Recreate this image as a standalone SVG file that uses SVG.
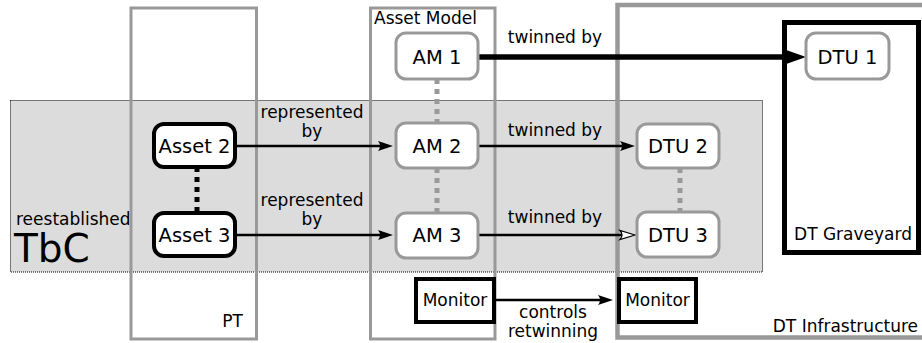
<svg xmlns="http://www.w3.org/2000/svg" width="922" height="343" viewBox="0 0 922 343">
<style>
text{font-family:"DejaVu Sans","Liberation Sans",sans-serif;fill:#000}
.lbl{font-size:17px}
.nt{font-size:19.5px;text-anchor:middle}
.mt{font-size:17px;text-anchor:middle}
.cont{fill:none;stroke:#999;stroke-width:3}
.gnode{fill:#fff;stroke:#999;stroke-width:3}
.bnode{fill:#fff;stroke:#000;stroke-width:4}
.mon{fill:#fff;stroke:#000;stroke-width:4}
.arr{stroke:#000;stroke-width:2.5;fill:none}
.gdot{stroke:#999;stroke-width:5;stroke-dasharray:5 5;fill:none}
.bdot{stroke:#000;stroke-width:5;stroke-dasharray:5 5;fill:none}
</style>
<defs>
<marker id="ah" markerUnits="userSpaceOnUse" viewBox="-20 -12 40 24" markerWidth="40" markerHeight="24" refX="0" refY="0" orient="auto" overflow="visible">
<path d="M8,0 L-7,-5 Q-3,0 -7,5 Z" fill="#000"/>
</marker>
<marker id="ahw" markerUnits="userSpaceOnUse" viewBox="-20 -12 40 24" markerWidth="40" markerHeight="24" refX="0" refY="0" orient="auto" overflow="visible">
<path d="M8,0 L-7,-4.5 Q-3,0 -7,4.5 Z" fill="#fff" stroke="#000" stroke-width="1.2"/>
</marker>
<marker id="ahb" markerUnits="userSpaceOnUse" viewBox="-30 -15 60 30" markerWidth="60" markerHeight="30" refX="0" refY="0" orient="auto" overflow="visible">
<path d="M14,0 L-10,-8.5 Q-4,0 -10,8.5 Z" fill="#000"/>
</marker>
</defs>
<rect width="922" height="343" fill="#fff"/>
<g id="tbc-region">
<rect x="10.5" y="100.5" width="752" height="171.5" fill="#dcdcdc" stroke="#000" stroke-width="1" stroke-dasharray="1 1"/>
<text class="lbl" x="16" y="225">reestablished</text>
<text x="14" y="262" style="font-size:39px">TbC</text>
</g>
<g id="pt">
<rect class="cont" x="131" y="8" width="125.5" height="331"/>
<text class="lbl" x="243" y="327" text-anchor="end">PT</text>
</g>
<g id="asset-model">
<rect class="cont" x="370.5" y="8" width="124.5" height="331"/>
<text class="lbl" x="374" y="24">Asset Model</text>
</g>
<g id="dt-infrastructure">
<rect x="617.5" y="5" width="320" height="332.5" fill="none" stroke="#999" stroke-width="4.5"/>
<text class="lbl" x="918" y="332" text-anchor="end">DT Infrastructure</text>
</g>
<g id="dt-graveyard">
<rect x="784.5" y="22.5" width="134" height="230" fill="#fff" stroke="#000" stroke-width="5"/>
<text class="lbl" x="912" y="240" text-anchor="end">DT Graveyard</text>
</g>
<g id="connectors">
<line class="bdot" x1="197" y1="167" x2="197" y2="213"/>
<line class="gdot" x1="437" y1="79" x2="437" y2="123"/>
<line class="gdot" x1="437" y1="168" x2="437" y2="213"/>
<line class="gdot" x1="680" y1="168" x2="680" y2="212"/>
<line class="arr" x1="235" y1="146" x2="385" y2="146" marker-end="url(#ah)"/>
<line class="arr" x1="235" y1="235" x2="385" y2="235" marker-end="url(#ah)"/>
<line class="arr" x1="478" y1="146" x2="627" y2="146" marker-end="url(#ah)"/>
<line class="arr" x1="478" y1="235" x2="627" y2="235" marker-end="url(#ahw)"/>
<line x1="478" y1="57" x2="792" y2="57" stroke="#000" stroke-width="5.5" marker-end="url(#ahb)"/>
<line class="arr" x1="494" y1="300" x2="605" y2="300" stroke-width="3" marker-end="url(#ah)"/>
<g class="lbl" text-anchor="middle">
<text x="312" y="118">represented</text>
<text x="312" y="137">by</text>
<text x="312" y="206">represented</text>
<text x="312" y="225">by</text>
<text x="555" y="43">twinned by</text>
<text x="555" y="136">twinned by</text>
<text x="555" y="223">twinned by</text>
<text x="553" y="318">controls</text>
<text x="553" y="337">retwinning</text>
</g>
</g>
<g id="asset2"><rect class="bnode" x="154" y="124" width="81" height="43" rx="10"/><text class="nt" x="194.5" y="153">Asset 2</text></g>
<g id="asset3"><rect class="bnode" x="154" y="213" width="81" height="43" rx="10"/><text class="nt" x="194.5" y="242">Asset 3</text></g>
<g id="am1"><rect class="gnode" x="396" y="33" width="82" height="46" rx="10"/><text class="nt" x="437" y="64">AM 1</text></g>
<g id="am2"><rect class="gnode" x="396" y="123" width="82" height="45" rx="10"/><text class="nt" x="437" y="153">AM 2</text></g>
<g id="am3"><rect class="gnode" x="396" y="213" width="82" height="45" rx="10"/><text class="nt" x="437" y="242">AM 3</text></g>
<g id="dtu1"><rect class="gnode" x="806" y="33" width="83" height="46" rx="10"/><text class="nt" x="847.5" y="64">DTU 1</text></g>
<g id="dtu2"><rect class="gnode" x="637" y="124" width="82" height="44" rx="10"/><text class="nt" x="678" y="153">DTU 2</text></g>
<g id="dtu3"><rect class="gnode" x="637" y="212" width="82" height="45" rx="10"/><text class="nt" x="678" y="242">DTU 3</text></g>
<g id="monitor-am"><rect class="mon" x="416" y="279" width="78" height="43"/><text class="mt" x="455" y="306">Monitor</text></g>
<g id="monitor-dt"><rect class="mon" x="619" y="279" width="77" height="43"/><text class="mt" x="657.5" y="306">Monitor</text></g>
</svg>
